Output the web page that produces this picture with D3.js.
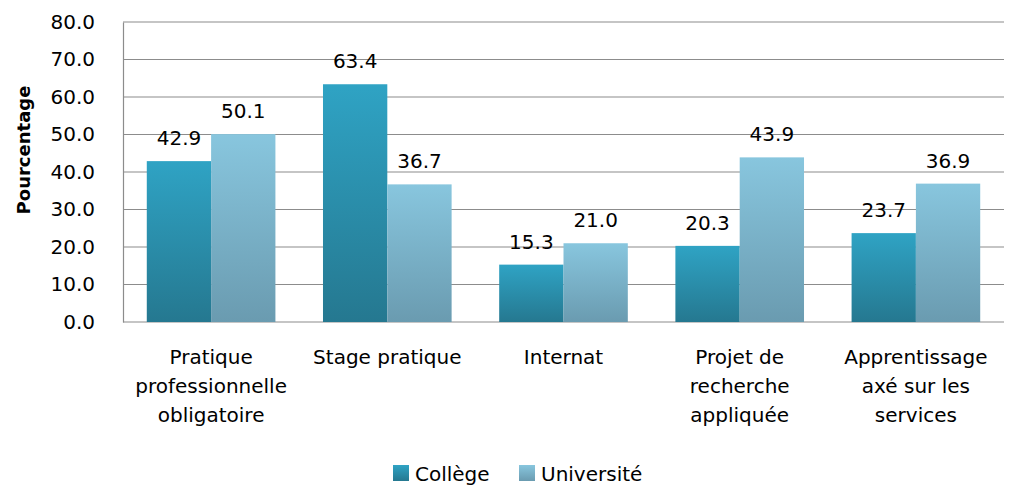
<!DOCTYPE html>
<html>
<head>
<meta charset="utf-8">
<script src="https://cdn.jsdelivr.net/npm/d3@7"></script>
<style>
  body { margin: 0; background: #fff; }
  svg text { font-family: "DejaVu Sans", sans-serif; fill: #000; }
</style>
</head>
<body>
<svg id="chart" width="1018" height="491"></svg>
<script>
var categories = [
   ["Pratique", "professionnelle", "obligatoire"],
   ["Stage pratique"],
   ["Internat"],
   ["Projet de", "recherche", "appliquée"],
   ["Apprentissage", "axé sur les", "services"],
];
var series = ["Collège", "Université"];
var college = [42.9, 63.4, 15.3, 20.3, 23.7];
var universite = [50.1, 36.7, 21.0, 43.9, 36.9];
var yTicks = [0, 10, 20, 30, 40, 50, 60, 70, 80];

var margin = { left: 123, top: 22, right: 14, bottom: 169 };
var width = 1018 - margin.left - margin.right;
var height = 491 - margin.top - margin.bottom;

var svg = d3.select("svg#chart");

// dégradés des barres
var defs = svg.append("defs");
var gradients = [
   ["gradCollege", "#2fa3c4", "#257890"],
   ["gradUniv", "#88c6de", "#6a9bb0"],
];
gradients.forEach(function (g) {
   var lg = defs.append("linearGradient")
      .attr("id", g[0])
      .attr("x1", 0).attr("y1", 0).attr("x2", 0).attr("y2", 1);
   lg.append("stop").attr("offset", "0%").attr("stop-color", g[1]);
   lg.append("stop").attr("offset", "100%").attr("stop-color", g[2]);
});
var fills = ["url(#gradCollege)", "url(#gradUniv)"];

var g = svg.append("g")
   .attr("transform", "translate(" + margin.left + "," + margin.top + ")");

var x0 = d3.scaleBand()
   .domain(d3.range(categories.length))
   .range([0, width])
   .paddingInner(0.27)
   .paddingOuter(0.135);

var x1 = d3.scaleBand()
   .domain(series)
   .range([0, x0.bandwidth()]);

var y = d3.scaleLinear().domain([0, 80]).range([height, 0]);

// grille
g.selectAll("line.grid")
   .data(yTicks)
   .enter()
   .append("line")
   .attr("class", "grid")
   .attr("x1", 0)
   .attr("x2", width)
   .attr("y1", function (d) { return y(d); })
   .attr("y2", function (d) { return y(d); })
   .attr("stroke", "#8c8c8c")
   .attr("stroke-width", 1.2);

// axe y
var yAxis = g.append("g")
   .call(d3.axisLeft(y).tickValues(yTicks).tickSize(0).tickPadding(28)
      .tickFormat(d3.format(".1f")));
yAxis.select(".domain").attr("stroke", "#8c8c8c").attr("stroke-width", 1.2);
yAxis.selectAll("text")
   .style("font-size", "20px")
   .attr("font-family", "DejaVu Sans")
   .attr("fill", "#000");

// données par groupe
var rows = categories.map(function (c, i) {
   return [
      { s: series[0], v: college[i] },
      { s: series[1], v: universite[i] },
   ];
});

var groups = g.selectAll("g.cat")
   .data(rows)
   .enter()
   .append("g")
   .attr("class", "cat")
   .attr("transform", function (d, i) { return "translate(" + x0(i) + ",0)"; });

groups.selectAll("rect")
   .data(function (d) { return d; })
   .enter()
   .append("rect")
   .attr("x", function (d) { return x1(d.s); })
   .attr("y", function (d) { return y(d.v); })
   .attr("width", x1.bandwidth())
   .attr("height", function (d) { return height - y(d.v); })
   .attr("fill", function (d, i) { return fills[i]; });

groups.selectAll("text.val")
   .data(function (d) { return d; })
   .enter()
   .append("text")
   .attr("class", "val")
   .attr("x", function (d) { return x1(d.s) + x1.bandwidth() / 2; })
   .attr("y", function (d) { return y(d.v) - 16; })
   .attr("text-anchor", "middle")
   .style("font-size", "20px")
   .text(function (d) { return d.v.toFixed(1); });

// étiquettes des catégories
g.selectAll("text.cat")
   .data(categories)
   .enter()
   .append("text")
   .attr("class", "cat")
   .attr("text-anchor", "middle")
   .attr("transform", function (d, i) {
      return "translate(" + (x0(i) + x0.bandwidth() / 2) + "," + (height + 42) + ")";
   })
   .style("font-size", "20px")
   .selectAll("tspan")
   .data(function (d) { return d; })
   .enter()
   .append("tspan")
   .attr("x", 0)
   .attr("y", function (d, i) { return i * 29; })
   .text(function (d) { return d; });

// titre axe y
svg.append("text")
   .attr("transform", "translate(30,150) rotate(-90)")
   .attr("text-anchor", "middle")
   .style("font-size", "18px")
   .style("font-weight", "bold")
   .text("Pourcentage");

// légende
var legendX = [393, 519];
var legend = svg.selectAll("g.legend")
   .data(series)
   .enter()
   .append("g")
   .attr("class", "legend")
   .attr("transform", function (d, i) { return "translate(" + legendX[i] + ",465)"; });
legend.append("rect")
   .attr("width", 16)
   .attr("height", 16)
   .attr("fill", function (d, i) { return fills[i]; });
legend.append("text")
   .attr("x", 22)
   .attr("y", 16)
   .style("font-size", "20px")
   .text(function (d) { return d; });
</script>
</body>
</html>
